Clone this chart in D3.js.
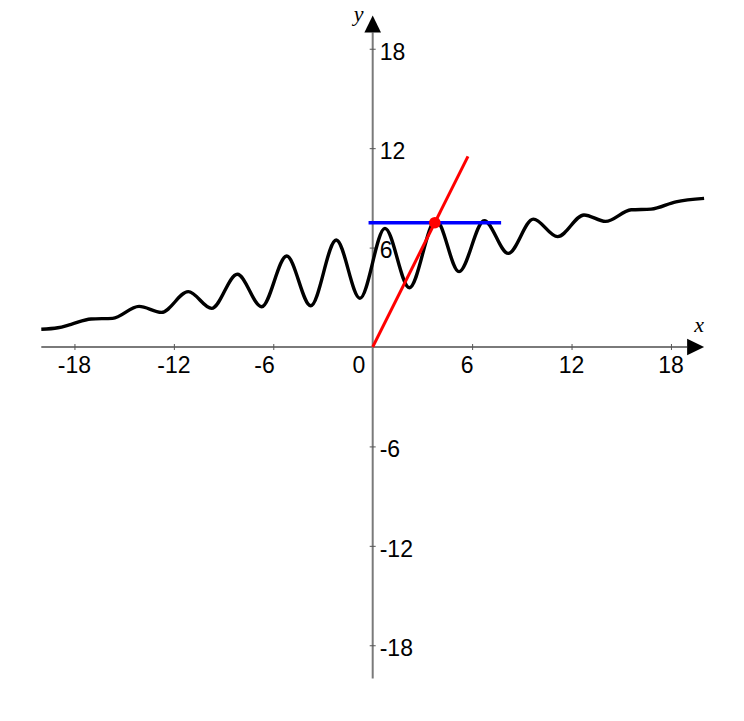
<!DOCTYPE html>
<html>
<head>
<meta charset="utf-8">
<script src="https://cdn.jsdelivr.net/npm/d3@7"></script>
<style>
  html, body { margin: 0; padding: 0; background: #fff; }
  svg { display: block; }
  .tick text { font-family: "Liberation Sans", Arial, sans-serif; font-size: 23px; fill: #000; }
  .axis-name { font-family: "Liberation Serif", "DejaVu Serif", serif; font-style: italic; font-size: 22px; }
</style>
</head>
<body>
<svg id="chart"></svg>
<script>
const width = 744,
    height = 721;

// curve (x, y in data units)
const curveX = [-20, -19, -18.2, -17, -15.7, -14.1, -12.75, -11.13, -9.72, -8.17, -6.7, -5.19, -3.74, -2.2, -0.77,
    0.74, 2.21, 3.82, 5.21, 6.73, 8.18, 9.69, 11.16, 12.75, 14.05, 15.6, 16.8, 18.3, 20];
const curveY = [1.07, 1.16, 1.37, 1.69, 1.73, 2.45, 2.09, 3.34, 2.33, 4.39, 2.43, 5.49, 2.49, 6.46, 2.94,
    7.16, 3.58, 7.66, 4.55, 7.62, 5.65, 7.72, 6.66, 7.97, 7.58, 8.28, 8.32, 8.76, 8.97];

// red line through the origin, blue horizontal line, and their meeting point
const redLineX = [0, 5.75];
const redLineY = [0, 11.5];
const blueLineX = [-0.25, 7.75];
const blueLineY = [7.5, 7.5];
const pointX = 3.75;
const pointY = 7.5;

const xTicks = [-18, -12, -6, 0, 6, 12, 18];
const yTicks = [-18, -12, -6, 6, 12, 18];

const svg = d3.select("svg#chart")
    .attr("width", width)
    .attr("height", height);

const x = d3.scaleLinear().domain([-20, 20]).range([41.3, 704.1]);
const y = d3.scaleLinear().domain([-20, 20]).range([678.4, 15.6]);

const axisColor = "#7a7a7a";
const arrowLen = 17,
    arrowHalf = 8.3;

// axis lines
svg.append("line")
    .attr("x1", x(-20)).attr("x2", x(20) - arrowLen)
    .attr("y1", y(0)).attr("y2", y(0))
    .attr("stroke", axisColor).attr("stroke-width", 2);
svg.append("line")
    .attr("x1", x(0)).attr("x2", x(0))
    .attr("y1", y(-20)).attr("y2", y(20) + arrowLen)
    .attr("stroke", axisColor).attr("stroke-width", 2);

// arrow heads
svg.append("path")
    .attr("d", `M${x(20)},${y(0)} L${x(20) - arrowLen},${y(0) - arrowHalf} L${x(20) - arrowLen},${y(0) + arrowHalf} Z`)
    .attr("fill", "#000");
svg.append("path")
    .attr("d", `M${x(0)},${y(20)} L${x(0) - arrowHalf},${y(20) + arrowLen} L${x(0) + arrowHalf},${y(20) + arrowLen} Z`)
    .attr("fill", "#000");

// x axis ticks and labels
const xAxis = svg.append("g")
    .attr("transform", `translate(0,${y(0)})`)
    .call(d3.axisBottom(x).tickValues(xTicks).tickSizeInner(3).tickSizeOuter(0).tickPadding(7).tickFormat(d => String(d)));
xAxis.select(".domain").remove();
xAxis.selectAll(".tick line")
    .attr("y1", -3)
    .attr("stroke", "#555")
    .attr("stroke-width", 1)
    .style("display", d => d === 0 ? "none" : null);
xAxis.selectAll(".tick text")
    .attr("text-anchor", d => Math.abs(d) < 10 ? "end" : "middle")
    .attr("x", d => d === 0 ? -8 : (Math.abs(d) < 10 ? 1 : -0.5));

// y axis ticks and labels
const yAxis = svg.append("g")
    .attr("transform", `translate(${x(0)},0)`)
    .call(d3.axisRight(y).tickValues(yTicks).tickSizeInner(3).tickSizeOuter(0).tickPadding(4).tickFormat(d => String(d)));
yAxis.select(".domain").remove();
yAxis.selectAll(".tick line")
    .attr("x1", -3)
    .attr("stroke", "#555")
    .attr("stroke-width", 1);
yAxis.selectAll(".tick text")
    .attr("text-anchor", "start")
    .attr("x", 7)
    .attr("dy", "0.45em");

// axis names
svg.append("text").classed("axis-name", true)
    .attr("x", x(20) - 5).attr("y", y(0) - 15)
    .attr("text-anchor", "middle")
    .text("x");
svg.append("text").classed("axis-name", true)
    .attr("x", x(0) - 14).attr("y", y(20) + 5)
    .attr("text-anchor", "middle")
    .text("y");

// curve
const line = d3.line()
    .x(d => x(d[0]))
    .y(d => y(d[1]))
    .curve(d3.curveMonotoneX);

svg.append("path")
    .datum(d3.zip(curveX, curveY))
    .attr("d", line)
    .attr("fill", "none")
    .attr("stroke", "#000")
    .attr("stroke-width", 3.4)
    .attr("stroke-linejoin", "round");

svg.append("path")
    .datum(d3.zip(blueLineX, blueLineY))
    .attr("d", d3.line().x(d => x(d[0])).y(d => y(d[1])))
    .attr("stroke", "#0000ff")
    .attr("stroke-width", 3.3);

svg.append("path")
    .datum(d3.zip(redLineX, redLineY))
    .attr("d", d3.line().x(d => x(d[0])).y(d => y(d[1])))
    .attr("stroke", "#ff0000")
    .attr("stroke-width", 3);

svg.append("circle")
    .attr("cx", x(pointX))
    .attr("cy", y(pointY))
    .attr("r", 5.8)
    .attr("fill", "#ff0000");
</script>
</body>
</html>
